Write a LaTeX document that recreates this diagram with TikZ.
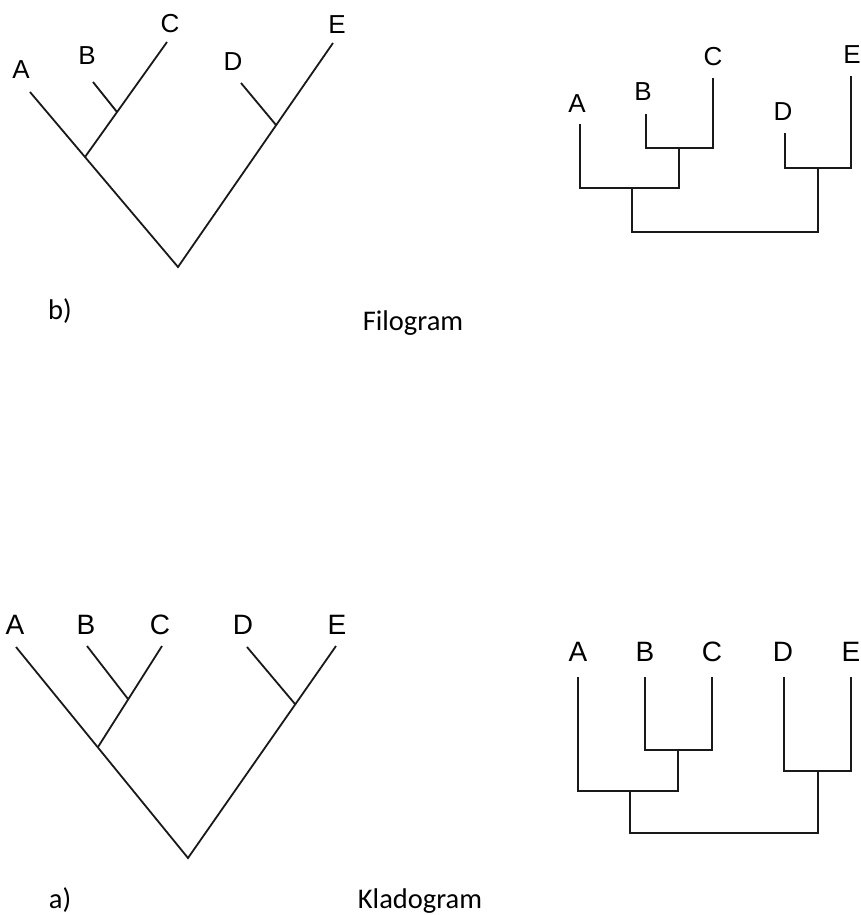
\documentclass[tikz,border=0pt]{standalone}
\usepackage{fontspec}
\setmainfont{Carlito}
\newfontfamily\taxonfont{Liberation Sans}
\usetikzlibrary{positioning}
\tikzstyle{every node}=[inner sep=0pt]
\tikzstyle{taxon}=[font=\taxonfont\fontsize{26}{26}\selectfont]
\tikzstyle{bigtaxon}=[font=\taxonfont\fontsize{28}{28}\selectfont]
\tikzstyle{branch}=[line width=1.8pt,black!90]
\tikzstyle{caption}=[font=\fontsize{28.5}{29}\selectfont,anchor=base]

\begin{document}
\begin{tikzpicture}[x=1pt,y=-1pt]
\useasboundingbox (0,0) rectangle (861,915);
% b) slanted tree
\coordinate (bA) at (30,92);
\coordinate (bB) at (93,82);
\coordinate (bC) at (167,42);
\coordinate (bD) at (241,83);
\coordinate (bE) at (333,43);
\coordinate (bAB) at (85,157);
\coordinate (bBC) at (117,112);
\coordinate (bDE) at (276,125);
\coordinate (broot) at (178,267);
\draw[branch] (bA) -- (broot) -- (bE);
\draw[branch] (bAB) -- (bC);
\draw[branch] (bB) -- (bBC);
\draw[branch] (bD) -- (bDE);
\node[taxon] (blA) at (21,70) {A};
\node[taxon] (blB) at (87,56) {B};
\node[taxon] (blC) at (170,24) {C};
\node[taxon] (blD) at (233,62) {D};
\node[taxon] (blE) at (337,25) {E};
% b) rectangular tree
\coordinate (fA) at (580,124);
\coordinate (fB) at (646,114);
\coordinate (fC) at (713,78);
\coordinate (fD) at (785,133);
\coordinate (fE) at (851,76);
\coordinate (fBC) at (679,148);
\coordinate (fABC) at (632,188);
\coordinate (fDE) at (818,168);
\coordinate (froot) at (725,232);
\draw[branch] (fB) |- (fBC) -| (fC);
\draw[branch] (fA) |- (fABC) -| (fBC);
\draw[branch] (fD) |- (fDE) -| (fE);
\draw[branch] (fABC) |- (froot) -| (fDE);
\node[taxon] (flA) at (577,104) {A};
\node[taxon] (flB) at (643,92) {B};
\node[taxon] (flC) at (713,57) {C};
\node[taxon] (flD) at (783,112) {D};
\node[taxon] (flE) at (852,55) {E};
\node[caption] (fcap) at (60,319) {b)};
\node[caption] (fname) at (413,330) {Filogram};
% a) slanted tree
\coordinate (aA) at (16,647);
\coordinate (aB) at (87,646);
\coordinate (aC) at (162,646);
\coordinate (aD) at (247,647);
\coordinate (aE) at (336,646);
\coordinate (aAB) at (98,747);
\coordinate (aBC) at (128,699);
\coordinate (aDE) at (295,704);
\coordinate (aroot) at (188,858);
\draw[branch] (aA) -- (aroot) -- (aE);
\draw[branch] (aAB) -- (aC);
\draw[branch] (aB) -- (aBC);
\draw[branch] (aD) -- (aDE);
\node[bigtaxon] (alA) at (15,625) {A};
\node[bigtaxon] (alB) at (86,625) {B};
\node[bigtaxon] (alC) at (160,625) {C};
\node[bigtaxon] (alD) at (243,625) {D};
\node[bigtaxon] (alE) at (337,625) {E};
% a) rectangular tree
\coordinate (kA) at (578,677);
\coordinate (kB) at (645,677);
\coordinate (kC) at (712,677);
\coordinate (kD) at (784,677);
\coordinate (kE) at (851,677);
\coordinate (kBC) at (678,750);
\coordinate (kABC) at (630,791);
\coordinate (kDE) at (818,771);
\coordinate (kroot) at (724,833);
\draw[branch] (kB) |- (kBC) -| (kC);
\draw[branch] (kA) |- (kABC) -| (kBC);
\draw[branch] (kD) |- (kDE) -| (kE);
\draw[branch] (kABC) |- (kroot) -| (kDE);
\node[bigtaxon] (klA) at (578,652) {A};
\node[bigtaxon] (klB) at (645,652) {B};
\node[bigtaxon] (klC) at (712,652) {C};
\node[bigtaxon] (klD) at (783,652) {D};
\node[bigtaxon] (klE) at (851,652) {E};
\node[caption] (kcap) at (60,908) {a)};
\node[caption] (kname) at (420,908) {Kladogram};
\end{tikzpicture}
\end{document}
